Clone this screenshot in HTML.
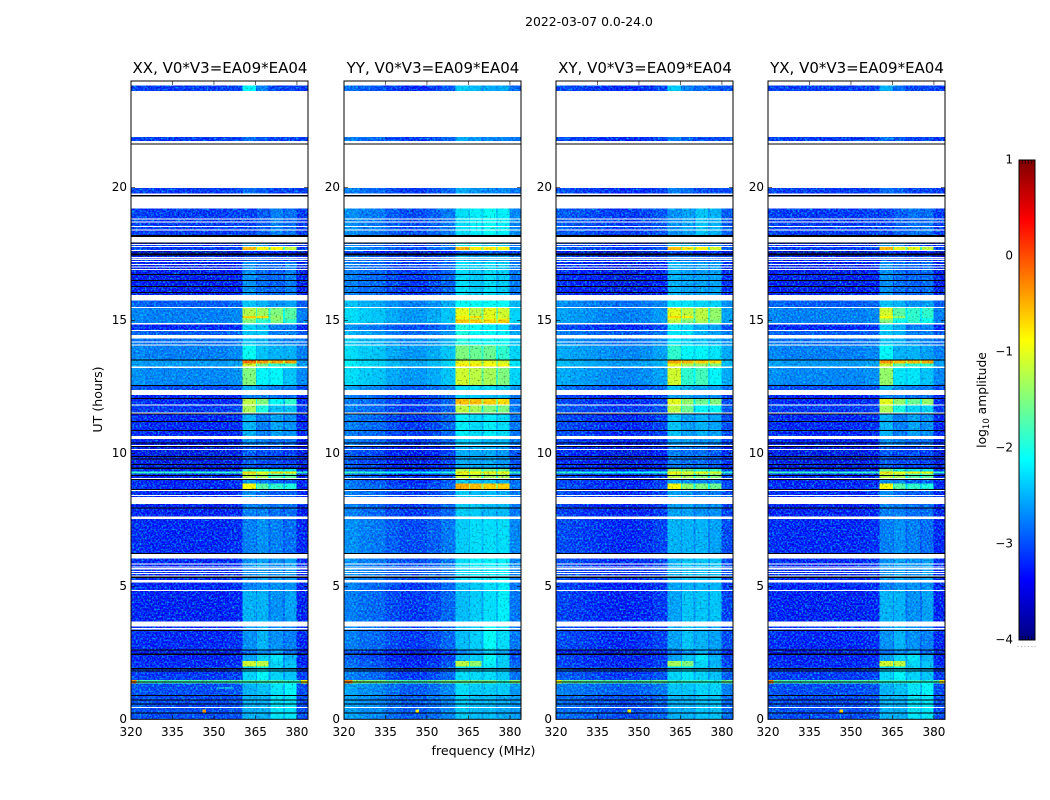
<!DOCTYPE html>
<html lang="en">
<head>
<meta charset="utf-8">
<title>2022-03-07 0.0-24.0</title>
<style>
html,body{margin:0;padding:0;background:#fff;width:1050px;height:800px;overflow:hidden}
svg{display:block;font-family:"DejaVu Sans","Liberation Sans",sans-serif;fill:#000}
.grain-light{mix-blend-mode:screen}
.grain-dark{mix-blend-mode:multiply}
</style>
</head>
<body>
<svg id="chart" width="1050" height="800" viewBox="0 0 1050 800" xmlns="http://www.w3.org/2000/svg">
  <defs>
    <filter id="grainLight" x="0" y="0" width="100%" height="100%" color-interpolation-filters="sRGB">
      <feTurbulence type="fractalNoise" baseFrequency="0.55" numOctaves="1" seed="7"/>
      <feColorMatrix type="matrix" values="0 0 0 0 0  1.7 0 0 0 -0.7  0 0 0 0 0  0 0 0 0 1"/>
    </filter>
    <filter id="grainDark" x="0" y="0" width="100%" height="100%" color-interpolation-filters="sRGB">
      <feTurbulence type="fractalNoise" baseFrequency="0.5" numOctaves="1" seed="19"/>
      <feColorMatrix type="matrix" values="1.1 0 0 0 0.48  1.1 0 0 0 0.48  1.1 0 0 0 0.48  0 0 0 0 1"/>
    </filter>
  </defs>
  <rect width="1050" height="800" fill="#fff"/>
  <text x="589" y="26" font-size="12.4" text-anchor="middle">2022-03-07 0.0-24.0</text>
  <text transform="translate(102 399.5) rotate(-90)" font-size="12.6" text-anchor="middle">UT (hours)</text>
  <text x="483.5" y="755" font-size="12.6" text-anchor="middle">frequency (MHz)</text>
  <text transform="translate(986 400) rotate(-90)" font-size="12.3" text-anchor="middle">log<tspan font-size="8.5" dy="3">10</tspan><tspan dy="-3"> amplitude</tspan></text>
  <g id="panels"></g>
  <g id="colorbar"></g>
</svg>
<script>
// ---- Chart data (hours UT, MHz, log10 amplitude) ----
const panelTitles = ["XX, V0*V3=EA09*EA04", "YY, V0*V3=EA09*EA04", "XY, V0*V3=EA09*EA04", "YX, V0*V3=EA09*EA04"];
const xTickLabels = [320, 335, 350, 365, 380];
const yTickLabels = [0, 5, 10, 15, 20];
const colorbarTicks = [1, 0, -1, -2, -3, -4];

// Frequency channels: 8 background, 4 RFI blocks with gaps, one upper edge
const channelEdges = [320, 325, 330, 335, 340, 345, 350, 355, 360.4, 365.2, 365.5, 369.8, 370.5, 374.9, 375.6, 379.9, 384];

// Upper hour of each observing block; a block runs down to the next entry
const blockTops = [23.83, 21.89, 19.98, 19.21, 17.93, 17.77, 17.62, 17.44, 17.19, 15.75, 15.46, 15.16, 15.09, 15.04, 14.85, 14.60, 14.32, 14.05, 13.50, 13.38, 13.21, 12.57, 12.19, 12.09, 11.79, 11.47, 10.53, 10.23, 9.42, 9.31, 9.25, 9.00, 8.87, 8.62, 8.09, 7.53, 6.05, 5.15, 4.82, 3.48, 2.61, 2.41, 2.19, 1.98, 1.48, 1.34, 0.91];

// Per block: background, block 1, block 2, block 3, block 4
const xxLevels = [
[-3.25,-2.15,-2.85,-3.2,-3.2],[-3.25,-2.95,-3.1,-3.2,-3.2],[-3.25,-2.95,-3.05,-3.2,-3.2],[-3.25,-3.2,-3.05,-2.85,-2.95],
[-3.35,-2.65,-2.75,-3.2,-3.2],[-3.25,-0.5,-0.9,-0.9,-1.2],[-3.7,-3.3,-3.3,-3.4,-3.4],[-3.35,-3.1,-3.1,-3.2,-3.2],
[-3.45,-2.75,-2.95,-3.0,-2.85],[-3.05,-2.45,-2.55,-2.75,-2.65],[-2.85,-1.25,-1.35,-1.5,-1.7],[-2.85,-0.6,-0.7,-1.4,-1.7],
[-2.85,-1.25,-1.6,-1.4,-1.7],[-2.85,-1.5,-1.9,-1.5,-1.9],[-3.35,-2.35,-2.45,-2.85,-2.85],[-3.05,-2.45,-2.45,-2.85,-2.85],
[-2.95,-2.45,-2.55,-2.75,-2.85],[-2.85,-2.1,-2.45,-2.55,-2.55],[-2.7,-0.1,-0.3,-0.4,-0.4],[-2.7,-1.1,-1.6,-1.9,-1.9],
[-2.8,-1.5,-2.15,-2.15,-2.45],[-3.15,-2.55,-2.75,-2.85,-2.85],[-3.4,-2.85,-2.85,-2.95,-2.95],[-3.35,-1.2,-1.5,-2.1,-1.9],
[-3.25,-1.3,-2.0,-2.45,-2.45],[-3.35,-2.55,-2.85,-2.65,-2.75],[-3.4,-2.75,-2.85,-2.95,-2.95],[-3.5,-3.05,-3.15,-3.15,-3.2],
[-3.35,-1.9,-2.05,-2.25,-2.25],[-1.9,-0.6,-0.9,-0.7,-0.8],[-3.35,-1.2,-1.3,-1.7,-1.7],[-3.4,-2.75,-2.85,-3.05,-3.05],
[-3.35,-0.9,-1.7,-1.9,-2.0],[-3.35,-2.75,-2.95,-3.05,-3.05],[-3.4,-2.85,-2.85,-2.95,-2.95],[-3.35,-2.85,-2.75,-2.85,-2.95],
[-3.35,-2.75,-2.65,-2.75,-2.65],[-3.35,-2.85,-2.75,-2.75,-2.75],[-3.4,-2.55,-2.55,-2.75,-2.65],[-3.35,-2.75,-2.55,-2.75,-2.85],
[-3.5,-2.95,-2.75,-2.65,-2.95],[-3.4,-2.65,-2.35,-2.25,-2.55],[-3.35,-1.1,-1.2,-2.35,-2.45],[-3.25,-2.35,-2.15,-2.35,-2.45],
[-1.8,-1.8,-1.8,-1.8,-1.9],[-3.15,-2.55,-2.45,-2.25,-2.15],[-3.15,-2.55,-2.55,-2.25,-2.25]];

const yyLevels = [
[-3.15,-2.4,-2.5,-2.6,-2.6],[-3.05,-2.6,-2.7,-2.8,-2.8],[-3.05,-2.6,-2.7,-2.8,-2.8],[-2.95,-2.3,-2.2,-2.1,-2.2],
[-3.05,-2.2,-2.2,-2.4,-2.4],[-2.95,-0.5,-0.8,-0.8,-0.9],[-3.4,-3.1,-3.1,-3.1,-3.1],[-3.05,-2.5,-2.6,-2.6,-2.6],
[-3.05,-2.3,-2.4,-2.3,-2.4],[-2.65,-2.1,-2.1,-2.1,-2.1],[-2.5,-1.0,-1.2,-1.0,-1.1],[-2.5,-0.8,-0.7,-1.0,-1.1],
[-2.5,-1.0,-1.2,-1.0,-1.0],[-2.5,-0.6,-0.6,-0.7,-0.6],[-2.95,-2.0,-2.1,-2.2,-2.3],[-2.75,-2.0,-2.1,-2.1,-2.2],
[-2.6,-2.0,-2.1,-2.1,-2.1],[-2.5,-1.5,-1.6,-1.6,-1.9],[-2.4,-1.0,-1.0,-1.0,-1.1],[-2.4,-0.8,-0.8,-0.9,-0.9],
[-2.5,-1.1,-1.2,-1.3,-1.5],[-2.85,-2.3,-2.3,-2.3,-2.4],[-3.05,-2.4,-2.4,-2.5,-2.5],[-3.05,-0.5,-0.5,-0.6,-0.7],
[-3.05,-1.2,-1.3,-1.5,-1.5],[-3.05,-2.2,-2.3,-2.2,-2.3],[-3.05,-2.4,-2.4,-2.5,-2.5],[-3.25,-2.6,-2.6,-2.6,-2.7],
[-3.15,-1.3,-1.4,-1.6,-1.6],[-2.0,-0.8,-0.9,-0.8,-0.9],[-3.15,-1.1,-1.2,-1.3,-1.3],[-3.15,-2.4,-2.5,-2.5,-2.6],
[-3.05,-0.4,-0.5,-0.6,-0.6],[-3.05,-2.4,-2.5,-2.5,-2.6],[-3.05,-2.4,-2.4,-2.5,-2.5],[-2.95,-2.4,-2.3,-2.3,-2.3],
[-2.95,-2.3,-2.2,-2.2,-2.2],[-3.05,-2.5,-2.4,-2.3,-2.2],[-3.05,-2.5,-2.4,-2.3,-2.2],[-3.05,-2.5,-2.4,-2.1,-2.3],
[-3.3,-2.8,-2.6,-2.4,-2.6],[-3.25,-2.5,-2.4,-2.1,-2.4],[-3.15,-1.2,-1.4,-2.2,-2.4],[-3.05,-2.3,-2.3,-2.3,-2.4],
[-1.6,-1.6,-1.6,-1.6,-1.9],[-2.85,-2.3,-2.4,-2.4,-2.4],[-2.85,-2.4,-2.5,-2.5,-2.6]];

const xyLevels = [
[-3.25,-2.4,-2.85,-2.95,-3.05],[-3.25,-2.85,-3.05,-3.15,-3.15],[-3.25,-2.85,-2.95,-3.15,-3.15],[-3.15,-2.75,-2.65,-2.45,-2.55],
[-3.25,-2.45,-2.55,-2.85,-2.85],[-3.15,-0.5,-0.8,-0.9,-1.1],[-3.6,-3.2,-3.2,-3.3,-3.3],[-3.25,-2.95,-2.95,-3.05,-3.05],
[-3.4,-2.55,-2.65,-2.65,-2.65],[-2.85,-2.25,-2.25,-2.35,-2.35],[-2.75,-1.0,-1.2,-1.2,-1.4],[-2.75,-0.7,-0.8,-1.2,-1.4],
[-2.75,-1.0,-1.3,-1.2,-1.4],[-2.75,-1.2,-1.5,-1.3,-1.5],[-3.25,-2.25,-2.35,-2.55,-2.65],[-2.95,-2.25,-2.25,-2.55,-2.65],
[-2.85,-2.25,-2.35,-2.45,-2.55],[-2.7,-1.9,-2.15,-2.15,-2.25],[-2.6,-0.4,-0.5,-0.6,-0.7],[-2.6,-1.0,-1.3,-1.4,-1.5],
[-2.7,-1.1,-1.9,-1.8,-2.15],[-3.05,-2.45,-2.55,-2.65,-2.65],[-3.3,-2.65,-2.65,-2.75,-2.75],[-3.25,-1.0,-1.4,-1.6,-1.5],
[-3.15,-1.2,-1.6,-2.15,-2.15],[-3.25,-2.45,-2.65,-2.55,-2.65],[-3.3,-2.65,-2.65,-2.75,-2.75],[-3.4,-2.85,-2.95,-2.95,-3.05],
[-3.25,-1.5,-1.6,-1.9,-1.9],[-2.0,-0.8,-1.0,-0.9,-1.0],[-3.25,-1.2,-1.3,-1.5,-1.5],[-3.3,-2.65,-2.75,-2.85,-2.85],
[-3.25,-0.9,-1.4,-1.5,-1.6],[-3.25,-2.65,-2.75,-2.85,-2.85],[-3.3,-2.65,-2.65,-2.75,-2.75],[-3.25,-2.55,-2.55,-2.55,-2.65],
[-3.25,-2.55,-2.45,-2.45,-2.45],[-3.3,-2.65,-2.55,-2.55,-2.55],[-3.3,-2.65,-2.45,-2.45,-2.45],[-3.25,-2.65,-2.45,-2.55,-2.65],
[-3.5,-2.95,-2.75,-2.55,-2.85],[-3.3,-2.65,-2.45,-2.25,-2.55],[-3.3,-1.3,-1.5,-2.35,-2.55],[-3.15,-2.35,-2.25,-2.35,-2.45],
[-1.7,-1.9,-1.9,-1.9,-2.0],[-2.95,-2.45,-2.45,-2.35,-2.35],[-3.05,-2.55,-2.55,-2.45,-2.45]];

const yxLevels = [
[-3.25,-2.55,-2.95,-3.2,-3.2],[-3.25,-2.95,-3.1,-3.2,-3.2],[-3.25,-2.95,-3.05,-3.2,-3.2],[-3.25,-3.2,-3.05,-2.95,-2.95],
[-3.35,-2.65,-2.75,-3.2,-3.2],[-3.25,-0.5,-1.0,-1.0,-1.2],[-3.7,-3.3,-3.3,-3.4,-3.4],[-3.35,-3.1,-3.1,-3.2,-3.2],
[-3.45,-2.75,-2.95,-3.0,-2.95],[-3.05,-2.45,-2.55,-2.75,-2.65],[-2.85,-1.1,-1.7,-1.9,-1.9],[-2.85,-0.9,-1.4,-1.9,-1.9],
[-2.85,-1.2,-1.9,-1.9,-2.05],[-2.85,-1.5,-2.05,-1.9,-2.05],[-3.35,-2.35,-2.55,-2.85,-2.85],[-3.05,-2.45,-2.55,-2.85,-2.85],
[-2.95,-2.45,-2.55,-2.75,-2.85],[-2.85,-2.15,-2.55,-2.55,-2.65],[-2.7,-0.3,-0.5,-0.5,-0.4],[-2.7,-1.1,-1.7,-1.9,-1.9],
[-2.8,-1.4,-2.25,-2.25,-2.45],[-3.15,-2.55,-2.75,-2.85,-2.85],[-3.4,-2.85,-2.85,-2.95,-2.95],[-3.35,-1.0,-1.4,-1.6,-1.4],
[-3.25,-1.3,-2.0,-2.35,-2.35],[-3.35,-2.55,-2.85,-2.65,-2.75],[-3.4,-2.75,-2.85,-2.95,-2.95],[-3.5,-3.05,-3.15,-3.15,-3.2],
[-3.35,-1.6,-2.05,-2.25,-2.25],[-1.9,-0.7,-0.9,-0.8,-0.9],[-3.35,-1.2,-1.3,-1.7,-1.7],[-3.4,-2.75,-2.85,-3.05,-3.05],
[-3.35,-0.9,-1.7,-1.9,-2.0],[-3.35,-2.75,-2.95,-3.05,-3.05],[-3.4,-2.85,-2.85,-2.95,-2.95],[-3.35,-2.85,-2.75,-2.85,-2.95],
[-3.35,-2.75,-2.65,-2.75,-2.65],[-3.35,-2.85,-2.75,-2.75,-2.75],[-3.4,-2.55,-2.55,-2.75,-2.65],[-3.35,-2.75,-2.55,-2.75,-2.85],
[-3.5,-2.95,-2.75,-2.65,-2.95],[-3.4,-2.65,-2.35,-2.25,-2.55],[-3.35,-1.1,-1.2,-2.35,-2.45],[-3.25,-2.35,-2.15,-2.35,-2.45],
[-1.8,-1.9,-1.9,-1.9,-2.0],[-3.15,-2.55,-2.45,-2.25,-2.15],[-3.15,-2.55,-2.55,-2.25,-2.25]];

// Background offset per background channel, then the 380-384 MHz edge
const xxShape = [0.05, 0, 0, 0, 0, 0, 0, 0.05, 0];
const yyShape = [0.2, 0.1, 0.05, -0.1, -0.2, -0.2, -0.1, 0.05, 0.15];
const xyShape = [0.1, 0.05, 0, -0.05, -0.1, -0.1, -0.05, 0.05, 0.1];
const yxShape = [0.05, 0, 0, 0, 0, 0, 0, 0.05, 0];

// No-data intervals (top hour, bottom hour), shown white
const gapHours = [[24,23.83],[23.63,21.89],[21.74,19.98],[19.77,19.21],[18.83,18.80],[18.71,18.68],[18.55,18.52],[18.42,18.38],[18.14,17.93],[17.88,17.86],[17.80,17.77],[17.64,17.62],[17.39,17.35],[17.32,17.27],[17.23,17.19],[17.11,17.08],[17.02,16.99],[16.93,16.89],[15.96,15.75],[15.50,15.46],[14.91,14.85],[14.64,14.60],[14.45,14.32],[14.20,14.16],[14.10,14.05],[13.26,13.21],[12.38,12.19],[11.83,11.79],[11.54,11.50],[10.66,10.53],[10.31,10.27],[10.16,10.12],[9.07,9.03],[8.62,8.58],[8.43,8.39],[8.35,8.09],[7.63,7.53],[6.24,6.05],[5.86,5.83],[5.75,5.71],[5.68,5.64],[5.58,5.54],[5.51,5.46],[5.41,5.36],[5.24,5.15],[4.86,4.82],[3.67,3.48],[3.44,3.38],[0.46,0.42]];

// Zero-amplitude scan boundaries (top hour, bottom hour), shown black
const blackHours = [[21.65,21.62],[19.72,19.65],[18.21,18.14],[17.93,17.91],[17.52,17.44],[16.74,16.71],[16.52,16.49],[16.29,16.25],[16.06,16.03],[13.53,13.50],[12.57,12.53],[12.09,12.05],[11.50,11.47],[11.21,11.18],[10.88,10.84],[10.41,10.38],[10.27,10.23],[9.90,9.86],[9.81,9.79],[9.60,9.56],[9.46,9.42],[9.18,9.15],[9.03,9.00],[8.66,8.62],[7.97,7.94],[6.26,6.24],[5.36,5.32],[3.36,3.33],[2.63,2.61],[2.47,2.41],[1.92,1.88],[1.84,1.82],[1.42,1.38],[0.91,0.88],[0.75,0.73],[0.60,0.58],[0.26,0.23]];

// Isolated features: panel index, start MHz, end MHz, top hour, bottom hour, level
const burstPanel = [0, 0, 0, 0, 1, 1, 2, 2, 3, 3, 3];
const burstStart = [320, 381.5, 345.8, 351, 320, 345.8, 345.8, 320, 320, 345.8, 382];
const burstEnd = [322, 384, 347.2, 357, 323, 347.2, 347.2, 322, 322, 347.2, 384];
const burstTop = [1.48, 1.48, 0.36, 1.2, 1.48, 0.36, 0.36, 1.48, 1.48, 0.36, 1.48];
const burstBottom = [1.34, 1.34, 0.26, 1.15, 1.34, 0.26, 0.26, 1.34, 1.34, 0.26, 1.34];
const burstLevel = [-0.2, -0.8, -0.4, -2.0, -0.2, -0.8, -0.8, -0.9, -0.2, -0.6, -0.8];

// ---- Layout and scales ----
const NS = "http://www.w3.org/2000/svg";
const panelLeft = [131, 344, 556, 768];
const panelWidth = 177;
const plotTop = 81, plotBottom = 719.3;
const freqMin = 320, freqMax = 384, hourMax = 24;
const barLeft = 1019, barRight = 1035, barTop = 160, barBottom = 640;
const levelMin = -4, levelMax = 1;

function xScale(panel, freq) { return panelLeft[panel] + (freq - freqMin) / (freqMax - freqMin) * panelWidth; }
function yScale(hour) { return plotBottom - hour / hourMax * (plotBottom - plotTop); }
function barScale(level) { return barBottom - (level - levelMin) / (levelMax - levelMin) * (barBottom - barTop); }
function jetChannel(t, centre) { return Math.max(0, Math.min(1, 1.5 - Math.abs(4 * t - centre))); }
function jet(level) {
  const t = (level - levelMin) / (levelMax - levelMin);
  const r = jetChannel(t, 3), g = jetChannel(t, 2), b = jetChannel(t, 1);
  return "rgb(" + Math.round(r * 255) + "," + Math.round(g * 255) + "," + Math.round(b * 255) + ")";
}
function make(tag, parent, props) {
  const node = document.createElementNS(NS, tag);
  for (const key in props) node.setAttribute(key, props[key]);
  parent.appendChild(node);
  return node;
}
function channelLevel(levels, shape, column) {
  if (column < 8) return levels[0] + shape[column];
  if (column === 15) return levels[0] + shape[8];
  if (column % 2 === 0) return levels[(column - 8) / 2 + 1];
  const left = levels[(column - 9) / 2 + 1], right = levels[(column - 9) / 2 + 2];
  return Math.min(left, right) * 0.7 + levels[0] * 0.3;
}

const allLevels = [xxLevels, yyLevels, xyLevels, yxLevels];
const allShapes = [xxShape, yyShape, xyShape, yxShape];
const panelKeys = ["xx", "yy", "xy", "yx"];
const panelsRoot = document.getElementById("panels");

panelTitles.forEach(function (title, p) {
  const group = make("g", panelsRoot, {});
  
  

  const background = make("rect", group, { x: panelLeft[p], y: plotTop, width: panelWidth, height: plotBottom - plotTop, fill: "#fff" });
  
  

  // Heatmap cells
  const cells = make("g", group, { "shape-rendering": "crispEdges" });
  
  
  blockTops.forEach(function (top, row) {
    const bottom = row + 1 < blockTops.length ? blockTops[row + 1] : 0;
    for (let c = 0; c < channelEdges.length - 1; c++) {
      const x0 = xScale(p, channelEdges[c]), x1 = xScale(p, channelEdges[c + 1]);
      const cell = make("rect", cells, { x: x0, y: yScale(top), width: x1 - x0, height: yScale(bottom) - yScale(top), fill: jet(channelLevel(allLevels[p][row], allShapes[p], c)) });
      
      
    }
  });
  burstPanel.forEach(function (owner, i) {
    if (owner !== p) return;
    const x0 = xScale(p, burstStart[i]), x1 = xScale(p, burstEnd[i]);
    const spot = make("rect", cells, { x: x0, y: yScale(burstTop[i]), width: x1 - x0, height: yScale(burstBottom[i]) - yScale(burstTop[i]), fill: jet(burstLevel[i]) });
    
    
  });

  // Decorative speckle only: textures on top of the cells, they carry no data
  const grainLight = make("rect", group, { x: panelLeft[p], y: plotTop, width: panelWidth, height: plotBottom - plotTop, filter: "url(#grainLight)", class: "grain-light" });
  
  
  const grainDark = make("rect", group, { x: panelLeft[p], y: plotTop, width: panelWidth, height: plotBottom - plotTop, filter: "url(#grainDark)", class: "grain-dark" });
  
  

  const overlay = make("g", group, { "shape-rendering": "crispEdges" });
  
  
  gapHours.forEach(function (gap) {
    const r = make("rect", overlay, { x: panelLeft[p], y: yScale(gap[0]), width: panelWidth, height: Math.max(1, yScale(gap[1]) - yScale(gap[0])), fill: "#fff" });
    
    
  });
  blackHours.forEach(function (band) {
    const r = make("rect", overlay, { x: panelLeft[p], y: yScale(band[0]), width: panelWidth, height: Math.max(1, yScale(band[1]) - yScale(band[0])), fill: "#000" });
    
    
  });

  // Frame
  const frame = make("rect", group, { x: panelLeft[p], y: plotTop, width: panelWidth, height: plotBottom - plotTop, fill: "none", stroke: "#000", "stroke-width": 1 });
  
  

  // Ticks and labels
  xTickLabels.forEach(function (label) {
    const x = xScale(p, label);
    const bottomTick = make("line", group, { x1: x, x2: x, y1: plotBottom, y2: plotBottom - 4, stroke: "#000", "stroke-width": 0.6 });
    
    
    const topTick = make("line", group, { x1: x, x2: x, y1: plotTop, y2: plotTop + 4, stroke: "#000", "stroke-width": 0.6 });
    
    
    const text = make("text", group, { x: x, y: 736, "font-size": 12, "text-anchor": "middle" });
    text.textContent = label;
    
    
  });
  yTickLabels.forEach(function (label) {
    const y = yScale(label);
    const leftTick = make("line", group, { x1: panelLeft[p], x2: panelLeft[p] + 4, y1: y, y2: y, stroke: "#000", "stroke-width": 0.6 });
    
    
    const rightTick = make("line", group, { x1: panelLeft[p] + panelWidth, x2: panelLeft[p] + panelWidth - 4, y1: y, y2: y, stroke: "#000", "stroke-width": 0.6 });
    
    
    const text = make("text", group, { x: panelLeft[p] - 4, y: y + 3.5, "font-size": 12, "text-anchor": "end" });
    text.textContent = label;
    
    
  });

  const heading = make("text", group, { x: panelLeft[p] + panelWidth / 2 + 0.5, y: 73, "font-size": 15, "text-anchor": "middle" });
  heading.textContent = title;
  
  
});

// ---- Colorbar ----
const barRoot = document.getElementById("colorbar");
const bar = make("g", barRoot, { "shape-rendering": "crispEdges" });


for (let py = barTop; py < barBottom; py++) {
  const level = levelMax - (py + 0.5 - barTop) / (barBottom - barTop) * (levelMax - levelMin);
  const strip = make("rect", bar, { x: barLeft, y: py, width: barRight - barLeft, height: 1, fill: jet(level) });
  
  
}
const barFrame = make("rect", barRoot, { x: barLeft, y: barTop, width: barRight - barLeft, height: barBottom - barTop, fill: "none", stroke: "#000", "stroke-width": 1 });


colorbarTicks.forEach(function (tick) {
  const text = make("text", barRoot, { x: 1013, y: barScale(tick) + 3.5, "font-size": 12, "text-anchor": "end" });
  text.textContent = String(tick).replace("-", "\u2212");
  
  
});
[1022.2, 1025.4, 1028.6, 1031.8].forEach(function (x) {
  const upper = make("line", barRoot, { x1: x, x2: x, y1: barTop, y2: barTop + 4, stroke: "#000", "stroke-width": 0.6 });
  
  
  const lower = make("line", barRoot, { x1: x, x2: x, y1: barBottom, y2: barBottom - 4, stroke: "#000", "stroke-width": 0.6 });
  
  
});
[1017.5, 1021, 1024.5, 1028, 1031.5, 1034.5].forEach(function (x) {
  const dot = make("rect", barRoot, { x: x, y: 646, width: 1, height: 1, fill: "#aaa" });
  
  
});
</script>
</body>
</html>
